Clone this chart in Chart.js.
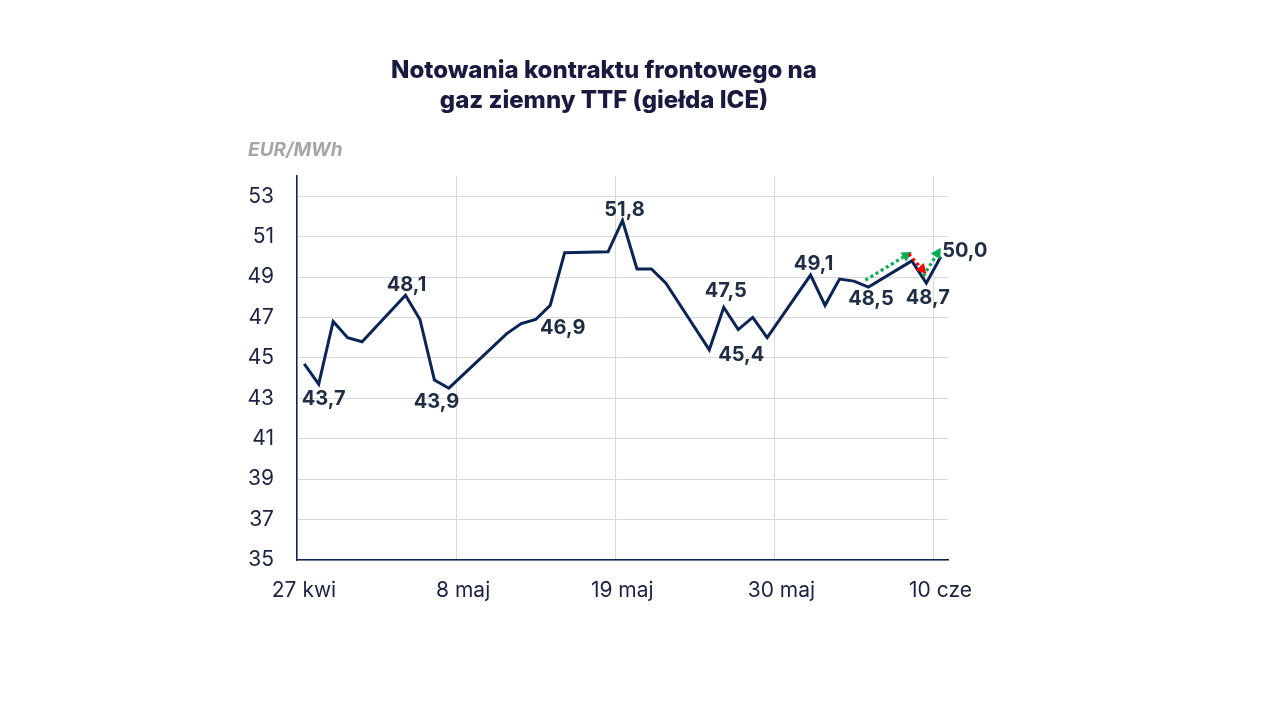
<!DOCTYPE html>
<html>
<head>
<meta charset="utf-8">
<script src="https://cdn.jsdelivr.net/npm/chart.js@4"></script>
<style>
html,body{margin:0;padding:0;background:#fff;}
#wrap{width:1280px;height:720px;position:relative;}
</style>
</head>
<body>
<div id="wrap"><canvas id="c"></canvas></div>
<script>
// ---- data ----
const titleLines = ["Notowania kontraktu frontowego na", "gaz ziemny TTF (giełda ICE)"];
const unitLabel = "EUR/MWh";
const startDate = "2026-04-27";
const dates = [
  "2026-04-27","2026-04-28","2026-04-29","2026-04-30","2026-05-01",
  "2026-05-04","2026-05-05","2026-05-06","2026-05-07",
  "2026-05-11","2026-05-12","2026-05-13","2026-05-14","2026-05-15",
  "2026-05-18","2026-05-19","2026-05-20","2026-05-21","2026-05-22",
  "2026-05-25","2026-05-26","2026-05-27","2026-05-28","2026-05-29",
  "2026-06-01","2026-06-02","2026-06-03","2026-06-04","2026-06-05",
  "2026-06-08","2026-06-09","2026-06-10"
];
const prices = [
  44.7,43.7,46.8,46.0,45.8,
  48.1,46.9,43.9,43.5,
  46.2,46.7,46.9,47.6,50.2,
  50.25,51.8,49.4,49.4,48.7,
  45.4,47.5,46.4,47.0,46.0,
  49.1,47.6,48.9,48.8,48.5,
  49.8,48.7,50.0
];
const xTickDates = ["2026-04-27","2026-05-08","2026-05-19","2026-05-30","2026-06-10"];
const xTickLabels = ["27 kwi","8 maj","19 maj","30 maj","10 cze"];
const yTicks = [35,37,39,41,43,45,47,49,51,53];
const yMin = 35, yMax = 54;
// labelled points: date -> label placement (dx, dy in px)
const labelledDates = ["2026-04-28","2026-05-04","2026-05-06","2026-05-13","2026-05-19","2026-05-25","2026-05-26","2026-06-01","2026-06-05","2026-06-09","2026-06-10"];
const labelOffsets = [[5,15],[1,-10],[2,22],[27,8],[2,-10],[32,5],[2,-16],[3,-11],[2.5,12],[1.5,15],[24,-6]];
// arrows between dates
const arrowFrom = ["2026-06-05","2026-06-08","2026-06-09"];
const arrowTo   = ["2026-06-08","2026-06-09","2026-06-10"];
const arrowColors = ["#00b050","#ff0000","#00b050"];

// ---- helpers ----
const DAY = 86400000;
function dayIndex(s){
  const [y,m,d] = s.split("-").map(Number);
  const [y0,m0,d0] = startDate.split("-").map(Number);
  return Math.round((Date.UTC(y,m-1,d) - Date.UTC(y0,m0-1,d0)) / DAY);
}
const points = dates.map((d,i)=>({x: dayIndex(d), y: prices[i]}));
const fmt = v => v.toFixed(1).replace(".", ",");
const FONT = "Inter, 'Noto Sans', sans-serif";

const navy = "#0b2456";
const textDark = "#1b2242";

const overlay = {
  id: "overlay",
  afterDatasetsDraw(chart){
    const ctx = chart.ctx;
    const xs = chart.scales.x, ys = chart.scales.y;
    const px = d => xs.getPixelForValue(dayIndex(d));
    const py = d => ys.getPixelForValue(prices[dates.indexOf(d)]);
    ctx.save();
    // arrows
    for (let i=0;i<arrowFrom.length;i++){
      const x1 = px(arrowFrom[i]) - 3, y1 = py(arrowFrom[i]) - 7;
      const x2 = px(arrowTo[i]),   y2 = py(arrowTo[i]) - 9;
      const ang = Math.atan2(y2-y1, x2-x1);
      const head = 10, hw = 5.5;
      const bx = x2 - head*Math.cos(ang), by = y2 - head*Math.sin(ang);
      ctx.strokeStyle = arrowColors[i];
      ctx.fillStyle = arrowColors[i];
      ctx.lineWidth = 3.2;
      ctx.setLineDash([3,3]);
      ctx.beginPath();
      ctx.moveTo(x1, y1);
      ctx.lineTo(bx, by);
      ctx.stroke();
      ctx.setLineDash([]);
      ctx.beginPath();
      ctx.moveTo(x2, y2);
      ctx.lineTo(bx + hw*Math.sin(ang), by - hw*Math.cos(ang));
      ctx.lineTo(bx - hw*Math.sin(ang), by + hw*Math.cos(ang));
      ctx.closePath();
      ctx.fill();
    }
    // data labels
    ctx.font = "bold 20px " + FONT;
    ctx.fillStyle = "#1f2e44";
    ctx.textAlign = "center";
    ctx.textBaseline = "middle";
    labelledDates.forEach((d,i)=>{
      const v = prices[dates.indexOf(d)];
      ctx.fillText(fmt(v), px(d) + labelOffsets[i][0], py(d) + labelOffsets[i][1]);
    });
    // title
    ctx.font = "800 24px " + FONT;
    ctx.fillStyle = "#1a1a40";
    ctx.fillText(titleLines[0], 604, 71);
    ctx.fillText(titleLines[1], 604, 101);
    // unit
    ctx.font = "italic bold 19px " + FONT;
    ctx.fillStyle = "#a6a6a6";
    ctx.textAlign = "left";
    ctx.fillText(unitLabel, 248, 150);
    ctx.restore();
  }
};

new Chart(document.getElementById("c"), {
  type: "line",
  data: {
    datasets: [{
      data: points,
      borderColor: navy,
      borderWidth: 3,
      pointRadius: 0,
      tension: 0,
      fill: false
    }]
  },
  options: {
    responsive: true,
    maintainAspectRatio: false,
    animation: false,
    devicePixelRatio: 1,
    layout: { padding: { left: 0, right: 332, top: 176, bottom: 0 } },
    plugins: { legend: { display: false }, tooltip: { enabled: false }, title: { display: false } },
    scales: {
      x: {
        type: "linear",
        min: -0.5,
        max: 44.5,
        afterFit(s){ s.height = 160; },
        afterBuildTicks(s){ s.ticks = xTickDates.map(d => ({ value: dayIndex(d) - 0.5 })); },
        ticks: {
          callback: (v, i) => xTickLabels[i],
          labelOffset: 7,
          padding: 18,
          maxRotation: 0,
          autoSkip: false,
          color: textDark,
          font: { family: FONT, size: 21 }
        },
        grid: { color: "#d9d9d9", lineWidth: 1, drawTicks: false },
        border: { color: navy, width: 1.5 }
      },
      y: {
        type: "linear",
        min: yMin,
        max: yMax,
        afterFit(s){ s.width = 297; },
        afterBuildTicks(s){ s.ticks = yTicks.map(v => ({ value: v })); },
        ticks: {
          padding: 23,
          color: textDark,
          font: { family: FONT, size: 21 }
        },
        grid: { color: "#d9d9d9", lineWidth: 1, drawTicks: false },
        border: { color: navy, width: 1.5 }
      }
    }
  },
  plugins: [overlay]
});
</script>
</body>
</html>
